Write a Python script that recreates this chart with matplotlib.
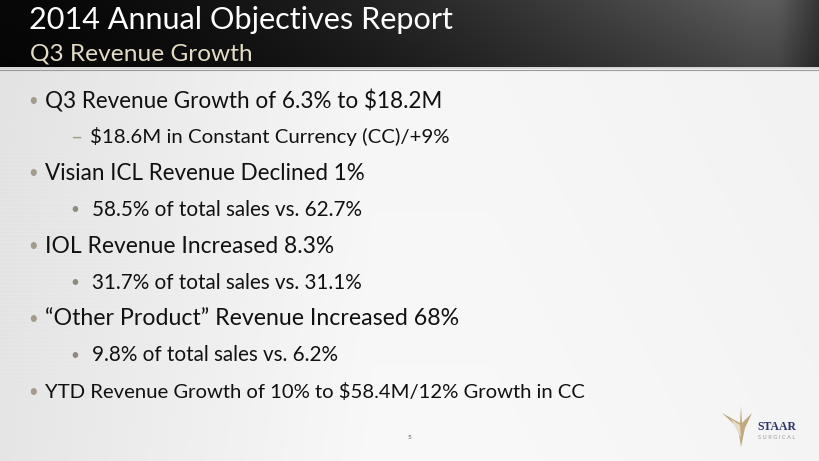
import numpy as np
import matplotlib
matplotlib.use("Agg")
import matplotlib.pyplot as plt
from matplotlib.patches import Polygon

# ---- content ----
title = "2014 Annual Objectives Report"
subtitle = "Q3 Revenue Growth"
levels = [1, 2, 1, 2, 1, 2, 1, 2, 1]
bullets = [
    "Q3 Revenue Growth of 6.3% to $18.2M",
    "$18.6M in Constant Currency (CC)/+9%",
    "Visian ICL Revenue Declined 1%",
    "58.5% of total sales vs. 62.7%",
    "IOL Revenue Increased 8.3%",
    "31.7% of total sales vs. 31.1%",
    "\u201cOther Product\u201d Revenue Increased 68%",
    "9.8% of total sales vs. 6.2%",
    "YTD Revenue Growth of 10% to $58.4M/12% Growth in CC",
]
markers = ["\u2022", "\u2013", "\u2022", "\u2022", "\u2022", "\u2022", "\u2022", "\u2022", "\u2022"]
# right edge of each bullet line in the reference (px)
line_right = [443, 450, 366, 363, 332, 363, 458, 339, 585]
page_number = "5"

W, H = 820, 461
FONT = "Lato"
fig = plt.figure(figsize=(W / 100, H / 100), dpi=100)
ax = fig.add_axes([0, 0, 1, 1])
ax.set_xlim(0, W)
ax.set_ylim(H, 0)
ax.axis("off")
renderer = fig.canvas.get_renderer()


def fit_text(x, y, s, right, size, **kw):
    t = ax.text(x, y, s, fontsize=size, **kw)
    w = t.get_window_extent(renderer).width
    t.set_fontsize(size * (right - x) / w)
    return t


# body background gradient
xs = np.linspace(0, 1, 300)
ys = np.linspace(0, 1, 200)
X, Y = np.meshgrid(xs, ys)
body = 0.89 + 0.075 * np.clip(X * 2.2, 0, 1) - 0.02 * np.clip((X - 0.6) * 2, 0, 1) + 0.01 * Y
stripes = 0.006 * np.sin(np.linspace(0, 200 * np.pi, 200))[:, None] * np.clip(1 - X * 3, 0, 1)
body = np.clip(body + stripes, 0, 1)
ax.imshow(np.dstack([body, body, body]), extent=(0, W, H, 70), aspect="auto", zorder=0)

# header gradient
hx = np.linspace(0, 1, 400)
hv = 0.03 + 0.33 * np.clip(hx / 0.92, 0, 1) ** 1.6
hv = np.where(hx > 0.95, hv - (hx - 0.95) * 3, hv)
hv = np.tile(hv, (40, 1))
vy = np.linspace(0, 1, 40)[:, None]
hv = hv * (1.0 - 0.25 * vy)
ax.imshow(np.dstack([hv, hv, hv]), extent=(0, W, 67.5, 0), aspect="auto", zorder=1)
ax.axhline(68.3, color="#d0d0d0", lw=1.2, zorder=2)
ax.axhline(69.8, color="#9a9a9a", lw=0.8, zorder=2)

fit_text(29, 28.5, title, 455, 24, color="white", family=FONT, va="baseline", zorder=3)
fit_text(30, 61, subtitle, 252, 18, color="#e4dcc6", family=FONT, va="baseline", zorder=3)

# bullets
y0, dy = 100.5, 36.4
for i, (lvl, txt, mk, r) in enumerate(zip(levels, bullets, markers, line_right)):
    y = y0 + i * dy
    if lvl == 1:
        ax.text(33, y, mk, fontsize=12, color="#a39c8c", family=FONT, va="center", ha="center", zorder=3)
        fit_text(45, y, txt, r, 17, color="#111111", family=FONT, va="center", zorder=3)
    else:
        if mk == "\u2013":
            ax.text(76.5, y + 1, mk, fontsize=15, color="#a39c8c", family=FONT, va="center", ha="center", zorder=3)
            fit_text(90, y, txt, r, 15, color="#111111", family=FONT, va="center", zorder=3)
        else:
            ax.text(74.5, y + 0.5, mk, fontsize=11, color="#8f8a80", family=FONT, va="center", ha="center", zorder=3)
            fit_text(92, y, txt, r, 15, color="#111111", family=FONT, va="center", zorder=3)

# logo
star = [(722, 413), (740, 423), (741, 406), (742, 423), (752, 413), (745, 428), (741, 447), (738, 428)]
ax.add_patch(Polygon(star, closed=True, facecolor="#bfa97e", edgecolor="none", zorder=3))
ax.add_patch(Polygon([(731, 419), (740, 425), (741, 438)], closed=True, facecolor="#e6dcc6", edgecolor="none", zorder=4))
fit_text(757, 427, "STAAR", 796, 9, color="#2c3468", family="Liberation Serif", weight="bold", va="center", zorder=3)
fit_text(758, 437, "S U R G I C A L", 795, 3.5, color="#9a9a9a", family=FONT, va="center", zorder=3)

ax.text(409, 437, page_number, fontsize=4.5, color="#555555", family=FONT, ha="center", va="center", zorder=3)

fig.savefig("out.png", dpi=100)
